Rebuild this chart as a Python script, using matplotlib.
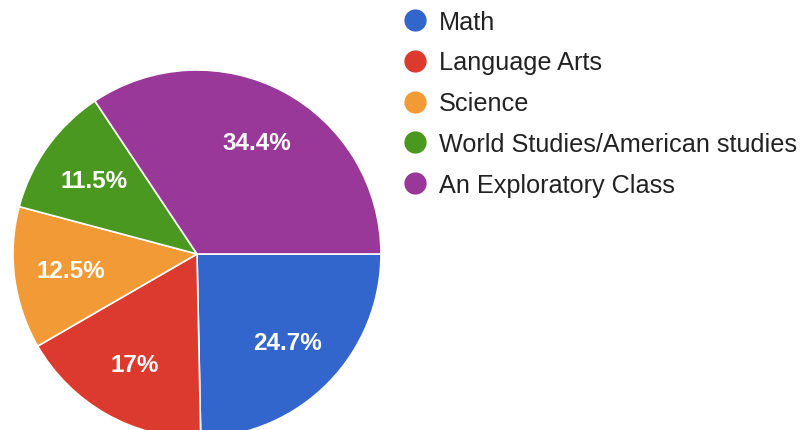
import matplotlib.pyplot as plt
from matplotlib.lines import Line2D

plt.rcParams['font.family'] = ['Liberation Sans', 'DejaVu Sans']

######################## - DATA - #############################
SUBJECTS = ['Math', 'Language Arts', 'Science',
            'World Studies/American studies', 'An Exploratory Class']
PERCENTS = [24.7, 17, 12.5, 11.5, 34.4]
COLORS = ['#3366cc', '#dc3a2e', '#f29a36', '#4a981f', '#993899']

W, H = 800, 431
CENTER = (197, H - 255)
RADIUS = 184


def fmt_pct(p):
    s = f'{p:.1f}'
    if s.endswith('.0'):
        s = s[:-2]
    return s + '%'


def main():
    fig = plt.figure(figsize=(W / 100, H / 100), dpi=100)
    ax = fig.add_axes([0, 0, 1, 1])

    wedges, texts, autotexts = ax.pie(
        PERCENTS, colors=COLORS, startangle=0, counterclock=False,
        center=CENTER, radius=RADIUS, autopct=fmt_pct, pctdistance=0.69,
        wedgeprops=dict(edgecolor='white', linewidth=1.2),
        textprops=dict(color='white', fontsize=17.5, fontweight='bold'),
        frame=True)
    ax.set_xlim(0, W)
    ax.set_ylim(0, H)
    ax.set_aspect('equal')
    ax.axis('off')

    handles = [Line2D([], [], linestyle='none', marker='o', markersize=15,
                      markerfacecolor=c, markeredgecolor=c) for c in COLORS]
    fig.legend(handles, SUBJECTS, loc='upper left',
               bbox_to_anchor=(402 / W, 1 - 10.5 / H), frameon=False,
               fontsize=18.2, labelspacing=0.67, handlelength=1.0,
               handletextpad=0.46, borderaxespad=0, borderpad=0,
               labelcolor='#222222')

    fig.savefig('out.png', dpi=100, facecolor='white')


if __name__ == '__main__':
    main()
